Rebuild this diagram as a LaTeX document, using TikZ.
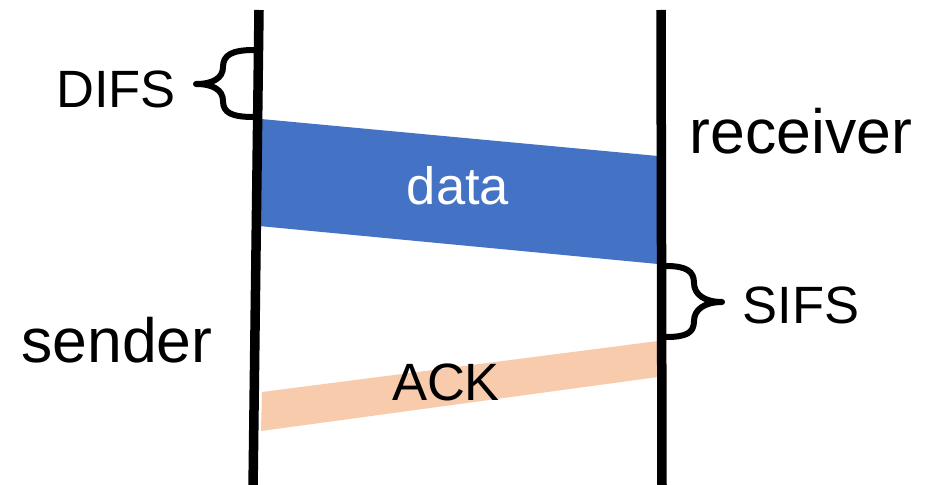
\documentclass[tikz,border=0pt]{standalone}
\usepackage{fontspec}
\setmainfont{Liberation Sans}
\definecolor{datablue}{HTML}{4472C4}
\definecolor{ackpeach}{HTML}{F8CBAD}
\begin{document}
\begin{tikzpicture}[x=1pt,y=-1pt,
  lifeline/.style={line width=9.5pt},
  bracepath/.style={line width=6pt, line cap=round, line join=round},
  lbl/.style={inner sep=0pt, anchor=base},
  big/.style={font=\fontsize{62.5}{70}\selectfont},
  mid/.style={font=\fontsize{52.5}{60}\selectfont}]
\useasboundingbox[fill=white] (0,0) rectangle (925,484);
% frames
\fill[datablue] (261,119) -- (658,156) -- (658,264) -- (259,226) -- cycle;
\fill[ackpeach] (262,392) -- (658,341) -- (658,377) -- (261,431) -- cycle;
% lifelines
\coordinate (st) at (259,10);
\coordinate (sb) at (253,490);
\coordinate (rt) at (661,10);
\coordinate (rb) at (662,490);
\draw[lifeline] (st) -- (sb);
\draw[lifeline] (rt) -- (rb);
% braces
\draw[bracepath] (254,50) .. controls (232,50) and (223,55) .. (223,67)
  .. controls (223,78) and (213,84) .. (196,84)
  .. controls (213,84) and (223,90) .. (223,101)
  .. controls (223,113) and (232,117) .. (254,117);
\draw[bracepath] (666,266) .. controls (686,266) and (694,271) .. (694,283)
  .. controls (694,294) and (704,302) .. (722,302)
  .. controls (704,302) and (694,310) .. (694,321)
  .. controls (694,333) and (686,337) .. (666,337);
% labels
\node[lbl,mid] (difs) at (116,108) {DIFS};
\node[lbl,mid] (sifs) at (801,323) {SIFS};
\node[lbl,big] (sender) at (117,362) {sender};
\node[lbl,big] (receiver) at (801,153) {receiver};
\node[lbl,mid,text=white] (data) at (458,204) {data};
\node[lbl,mid] (ack) at (446,400) {ACK};
\end{tikzpicture}
\end{document}
